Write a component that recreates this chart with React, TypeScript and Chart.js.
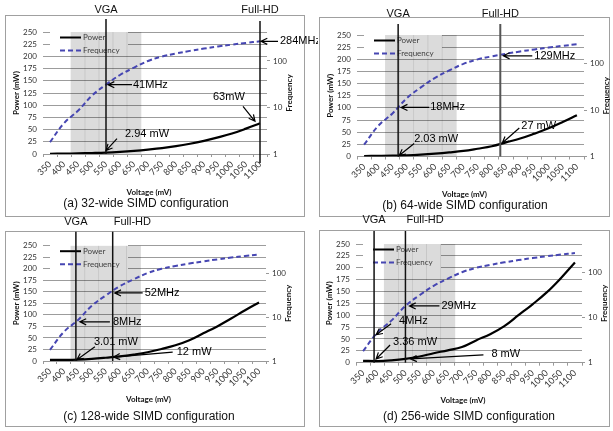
import React, { useEffect, useRef } from "react";
import { Chart, registerables } from "chart.js";

Chart.register(...registerables);

// ---------------- data ----------------
const voltages = [350, 400, 450, 500, 550, 600, 650, 700, 750, 800, 850, 900, 950, 1000, 1050, 1100];
const voltageLabels = voltages.map(String);

// maximum clock frequency (MHz) vs. supply voltage
const frequencyMHz = [1.8, 4.6, 8.5, 18, 31, 50, 72, 100, 125, 145, 165, 185, 205, 225, 245, 265];

// power (mW) of each SIMD configuration
const power32 = [0.5, 0.8, 1.3, 2, 2.94, 4.5, 6.5, 9, 12, 16, 21, 27, 34, 42, 52, 63];
const power64 = [1, 1.2, 1.6, 2.5, 4, 6, 8.5, 11.5, 16, 21, 29, 37, 47, 58, 71, 85];
const power128 = [2.5, 2.5, 3, 4.5, 7, 10, 14, 19, 26, 34, 45, 60, 75, 92, 110, 127];
const power256 = [4, 3.4, 5, 8, 13, 20, 26, 33, 47, 60, 77, 100, 123, 148, 178, 211];
const powerSeries = [power32, power64, power128, power256];

const shadedVoltages = [450, 500, 550, 600, 650];
const powerAxisMax = 250;
const powerAxisStep = 25;
const freqAxisMin = 1;
const freqAxisMax = 420;
const freqTickValues = [1, 10, 100];

// voltage at which the VGA / Full-HD frame-rate target is met
const vgaVoltage = [550, 470, 443, 389];
const fullHdVoltage = [1100, 830, 575, 500];
const markerNames = ["VGA", "Full-HD"];

const captions = [
  "(a) 32-wide SIMD configuration",
  "(b) 64-wide SIMD configuration",
  "(c) 128-wide SIMD configuration",
  "(d) 256-wide SIMD configuration",
];

// annotation texts: [text, series, marker index (0 = VGA, 1 = Full-HD)]
const annotationsA: [string, string, number][] = [["41MHz", "freq", 0], ["284MHz", "freq", 1], ["2.94 mW", "power", 0], ["63mW", "power", 1]];
const annotationsB: [string, string, number][] = [["18MHz", "freq", 0], ["129MHz", "freq", 1], ["2.03 mW", "power", 0], ["27 mW", "power", 1]];
const annotationsC: [string, string, number][] = [["52MHz", "freq", 1], ["8MHz", "freq", 0], ["3.01 mW", "power", 0], ["12 mW", "power", 1]];
const annotationsD: [string, string, number][] = [["29MHz", "freq", 1], ["4MHz", "freq", 0], ["3.36 mW", "power", 0], ["8 mW", "power", 1]];
const annotationSets = [annotationsA, annotationsB, annotationsC, annotationsD];

// ---------------- layout / style ----------------
const LEFT_W = 30;
const RIGHT_W = 25;
const X_H = 30;
const TICK_FONT = { family: "Lato, 'Liberation Sans', sans-serif", size: 8 };
const X_TICK_FONT = { family: "Lato, 'Liberation Sans', sans-serif", size: 9 };
const ANN_FONT = "11px 'Liberation Sans', Arial, sans-serif";
const TITLE_FONT = "bold 8px Lato, 'Liberation Sans', sans-serif";
const CAPTION_FONT = "12px 'Liberation Sans', Arial, sans-serif";
const FREQ_COLOR = "#4646b2";

type Off = { dx: number; dy: number; ax: number; ay: number; tx: number; ty: number };
type Layout = {
  canvas: { x: number; y: number; w: number; h: number };
  plot: { l: number; t: number; r: number; b: number };
  box: { x: number; y: number; w: number; h: number };
  caption: { x: number; y: number };
  lineTop: number[];
  lineBottom: number[];
  lineColor: string[];
  lineWidth: number[];
  labelDy: number;
  labelAlign: string[];
  ann: Off[];
};

const layouts: Layout[] = [
  {
    canvas: { x: 0, y: 0, w: 318, h: 215 },
    plot: { l: 43, t: 32, r: 267, b: 154 },
    box: { x: 5, y: 15, w: 300, h: 202 },
    caption: { x: 146, y: 204 },
    lineTop: [13, 11], lineBottom: [0, 9],
    lineColor: ["#111", "#111"], lineWidth: [1.5, 1.5],
    labelDy: 22, labelAlign: ["center", "center"],
    ann: [
      { dx: 27, dy: 0, ax: 26, ay: 0, tx: 2, ty: 0 },
      { dx: 20, dy: 0, ax: 18, ay: 0, tx: 1, ty: 0 },
      { dx: 19, dy: -19, ax: 11, ay: -14, tx: 0, ty: -2 },
      { dx: -47, dy: -26, ax: -17, ay: -17, tx: -5, ty: -2 },
    ],
  },
  {
    canvas: { x: 306, y: 0, w: 307, h: 215 },
    plot: { l: 357, t: 35, r: 584, b: 156.5 },
    box: { x: 319, y: 17, w: 291, h: 200 },
    caption: { x: 465, y: 206 },
    lineTop: [11, 11], lineBottom: [0, 0],
    lineColor: ["#111", "#555"], lineWidth: [1.5, 2],
    labelDy: 21, labelAlign: ["center", "center"],
    ann: [
      { dx: 32, dy: 0, ax: 31, ay: 0, tx: 3, ty: 0 },
      { dx: 34, dy: 1, ax: 32, ay: 1, tx: 3, ty: 1 },
      { dx: 16, dy: -17, ax: 16, ay: -12, tx: 1, ty: 0 },
      { dx: 21, dy: -18, ax: 19, ay: -16, tx: 2, ty: -1 },
    ],
  },
  {
    canvas: { x: 0, y: 215, w: 318, h: 216 },
    plot: { l: 43, t: 245.7, r: 266, b: 361 },
    box: { x: 5, y: 231, w: 300, h: 196 },
    caption: { x: 149, y: 416.7 },
    lineTop: [14, 14], lineBottom: [0, 0],
    lineColor: ["#111", "#111"], lineWidth: [1.5, 1.5],
    labelDy: 24, labelAlign: ["center", "left"],
    ann: [
      { dx: 32, dy: 2, ax: 30, ay: 2, tx: 2, ty: 2 },
      { dx: 37, dy: 0, ax: 34, ay: 0, tx: 4, ty: 0 },
      { dx: 18, dy: -17.6, ax: 19, ay: -13, tx: 1, ty: 0 },
      { dx: 64, dy: -5, ax: 60, ay: -5, tx: 1, ty: 0 },
    ],
  },
  {
    canvas: { x: 306, y: 215, w: 307, h: 216 },
    plot: { l: 356, t: 244, r: 582, b: 362.7 },
    box: { x: 319, y: 230, w: 291, h: 197 },
    caption: { x: 469, y: 416.7 },
    lineTop: [13, 13], lineBottom: [0, 0],
    lineColor: ["#111", "#111"], lineWidth: [1.5, 1.5],
    labelDy: 24, labelAlign: ["center", "left"],
    ann: [
      { dx: 36, dy: 0, ax: 34, ay: 0, tx: 4, ty: 0 },
      { dx: 25, dy: -15.6, ax: 17, ay: -13, tx: 2, ty: -2 },
      { dx: 19, dy: -19, ax: 16, ay: -16, tx: 2, ty: -2 },
      { dx: 86, dy: -5, ax: 78, ay: -4, tx: 5, ty: 0 },
    ],
  },
];

// ---------------- helpers ----------------
function indexOfVoltage(v: number) {
  return (v - voltages[0]) / (voltages[1] - voltages[0]);
}
function valueAt(series: number[], v: number, log: boolean) {
  const idx = indexOfVoltage(v);
  const i0 = Math.max(0, Math.min(series.length - 2, Math.floor(idx)));
  const t = idx - i0;
  if (log) {
    const a = Math.log10(series[i0]);
    const b = Math.log10(series[i0 + 1]);
    return Math.pow(10, a + (b - a) * t);
  }
  return series[i0] + (series[i0 + 1] - series[i0]) * t;
}

function arrow(ctx: CanvasRenderingContext2D, x0: number, y0: number, x1: number, y1: number) {
  ctx.beginPath();
  ctx.moveTo(x0, y0);
  ctx.lineTo(x1, y1);
  const ang = Math.atan2(y1 - y0, x1 - x0);
  const len = 7;
  const spread = 0.45;
  ctx.moveTo(x1 - len * Math.cos(ang - spread), y1 - len * Math.sin(ang - spread));
  ctx.lineTo(x1, y1);
  ctx.lineTo(x1 - len * Math.cos(ang + spread), y1 - len * Math.sin(ang + spread));
  ctx.stroke();
}

function makePlugin(i: number) {
  const L = layouts[i];
  const markers = [vgaVoltage[i], fullHdVoltage[i]];
  const power = powerSeries[i];
  return {
    id: "figure" + i,
    beforeDatasetsDraw(chart: any) {
      const { ctx, chartArea } = chart;
      // legend background box
      ctx.save();
      ctx.fillStyle = "#ffffff";
      ctx.fillRect(chartArea.left + 7, chartArea.top - 1, 78, 25);
      ctx.restore();
    },
    afterDatasetsDraw(chart: any) {
      const { ctx, chartArea, scales } = chart;
      const xs = scales.x;
      const ys = scales.y;
      const ys1 = scales.y1;
      const ox = L.canvas.x;
      const oy = L.canvas.y;
      ctx.save();

      // legend
      const lx = chartArea.left + 17;
      const ly1 = chartArea.top + 5.5;
      const ly2 = chartArea.top + 18.5;
      ctx.lineWidth = 2;
      ctx.strokeStyle = "#000";
      ctx.beginPath();
      ctx.moveTo(lx, ly1);
      ctx.lineTo(lx + 21, ly1);
      ctx.stroke();
      ctx.strokeStyle = FREQ_COLOR;
      ctx.setLineDash([5, 3]);
      ctx.beginPath();
      ctx.moveTo(lx, ly2);
      ctx.lineTo(lx + 21, ly2);
      ctx.stroke();
      ctx.setLineDash([]);
      ctx.fillStyle = "#404040";
      ctx.font = "8px Lato, 'Liberation Sans', sans-serif";
      ctx.textAlign = "left";
      ctx.textBaseline = "middle";
      ctx.fillText("Power", lx + 23, ly1);
      ctx.fillText("Frequency", lx + 23, ly2);

      // marker lines + labels
      markers.forEach((v, m) => {
        const x = xs.getPixelForValue(indexOfVoltage(v));
        ctx.strokeStyle = L.lineColor[m];
        ctx.lineWidth = L.lineWidth[m];
        ctx.beginPath();
        ctx.moveTo(x, chartArea.top - L.lineTop[m]);
        ctx.lineTo(x, chartArea.bottom + L.lineBottom[m]);
        ctx.stroke();
        ctx.fillStyle = "#111";
        ctx.font = "11px 'Liberation Sans', Arial, sans-serif";
        ctx.textBaseline = "middle";
        ctx.textAlign = L.labelAlign[m] as CanvasTextAlign;
        ctx.fillText(markerNames[m], L.labelAlign[m] === "left" ? x + 1 : x, chartArea.top - L.labelDy);
      });

      // annotations
      annotationSets[i].forEach(([text, series, m], k) => {
        const o = L.ann[k];
        const v = markers[m];
        const px = xs.getPixelForValue(indexOfVoltage(v));
        const py = series === "freq"
          ? ys1.getPixelForValue(valueAt(frequencyMHz, v, true))
          : ys.getPixelForValue(valueAt(power, v, false));
        ctx.strokeStyle = "#000";
        ctx.lineWidth = 1.2;
        arrow(ctx, px + o.ax, py + o.ay, px + o.tx, py + o.ty);
        ctx.fillStyle = "#000";
        ctx.font = ANN_FONT;
        ctx.textAlign = "left";
        ctx.textBaseline = "middle";
        ctx.fillText(text, px + o.dx, py + o.dy);
      });

      // axis titles
      const midY = (chartArea.top + chartArea.bottom) / 2;
      ctx.fillStyle = "#111";
      ctx.font = TITLE_FONT;
      ctx.textAlign = "center";
      ctx.textBaseline = "middle";
      ctx.save();
      ctx.translate(chartArea.left - 27, midY);
      ctx.rotate(-Math.PI / 2);
      ctx.fillText("Power (mW)", 0, 0);
      ctx.restore();
      ctx.save();
      ctx.translate(chartArea.right + 22, midY);
      ctx.rotate(-Math.PI / 2);
      ctx.fillText("Frequency", 0, 0);
      ctx.restore();
      ctx.fillText("Voltage (mV)", (chartArea.left + chartArea.right) / 2 - 6, chartArea.bottom + 38);

      // caption
      ctx.fillStyle = "#111";
      ctx.font = CAPTION_FONT;
      ctx.textAlign = "center";
      ctx.fillText(captions[i], L.caption.x - ox, L.caption.y - oy);
      ctx.restore();
    },
  };
}

function Panel({ index }: { index: number }) {
  const ref = useRef<HTMLCanvasElement | null>(null);
  const L = layouts[index];
  useEffect(() => {
    if (!ref.current) return;
    const padding = {
      left: L.plot.l - L.canvas.x - LEFT_W,
      top: L.plot.t - L.canvas.y,
      right: L.canvas.x + L.canvas.w - L.plot.r - RIGHT_W,
      bottom: L.canvas.y + L.canvas.h - L.plot.b - X_H,
    };
    const chart = new Chart(ref.current, {
      type: "line",
      data: {
        labels: voltageLabels,
        datasets: [
          {
            type: "bar",
            label: "region",
            data: voltages.map((v) => (shadedVoltages.includes(v) ? powerAxisMax : null)),
            backgroundColor: "rgba(0,0,0,0.14)",
            borderWidth: 0,
            barPercentage: 1,
            categoryPercentage: 1,
            yAxisID: "y",
            order: 3,
          } as any,
          {
            type: "line",
            label: "Power",
            data: powerSeries[index],
            borderColor: "#000",
            borderWidth: 2.2,
            pointRadius: 0,
            tension: 0.4,
            yAxisID: "y",
            order: 1,
          },
          {
            type: "line",
            label: "Frequency",
            data: frequencyMHz,
            borderColor: FREQ_COLOR,
            borderDash: [5, 3],
            borderWidth: 2,
            pointRadius: 0,
            tension: 0.4,
            yAxisID: "y1",
            order: 2,
          },
        ],
      },
      options: {
        animation: false,
        responsive: false,
        devicePixelRatio: 1,
        layout: { padding },
        plugins: { legend: { display: false }, tooltip: { enabled: false } },
        scales: {
          x: {
            type: "category",
            offset: true,
            grid: { display: true, drawOnChartArea: false, drawTicks: true, tickLength: 3, color: "#999", offset: true },
            border: { display: true, color: "#999" },
            ticks: { autoSkip: false, minRotation: 45, maxRotation: 45, font: X_TICK_FONT, color: "#333", padding: 2 },
            afterFit: (s: any) => { s.height = X_H; },
          },
          y: {
            position: "left",
            min: 0,
            max: powerAxisMax,
            grid: { color: "#9c9c9c", drawTicks: false, lineWidth: 1 },
            border: { display: false },
            ticks: { stepSize: powerAxisStep, autoSkip: false, font: TICK_FONT, color: "#333", padding: 6 },
            afterFit: (s: any) => { s.width = LEFT_W; },
          },
          y1: {
            type: "logarithmic",
            position: "right",
            min: freqAxisMin,
            max: freqAxisMax,
            grid: { drawOnChartArea: false, drawTicks: true, tickLength: 3, color: "#999" },
            border: { display: false },
            ticks: { autoSkip: false, font: TICK_FONT, color: "#333", padding: 3, callback: (v: any) => String(v) },
            afterBuildTicks: (s: any) => { s.ticks = freqTickValues.map((v) => ({ value: v })); },
            afterFit: (s: any) => { s.width = RIGHT_W; },
          },
        },
      } as any,
      plugins: [makePlugin(index)],
    } as any);
    return () => chart.destroy();
  }, [index]);
  return (
    <canvas
      ref={ref}
      width={L.canvas.w}
      height={L.canvas.h}
      style={{ position: "absolute", left: L.canvas.x, top: L.canvas.y, width: L.canvas.w, height: L.canvas.h }}
    />
  );
}

export default function App() {
  return (
    <div style={{ position: "fixed", left: 0, top: 0, width: 613, height: 431, background: "#fff", overflow: "hidden" }}>
      {layouts.map((L, i) => (
        <div
          key={"box" + i}
          style={{ position: "absolute", left: L.box.x, top: L.box.y, width: L.box.w, height: L.box.h, border: "1px solid #a0a0a0", boxSizing: "border-box" }}
        />
      ))}
      {layouts.map((_, i) => (
        <Panel key={i} index={i} />
      ))}
    </div>
  );
}
